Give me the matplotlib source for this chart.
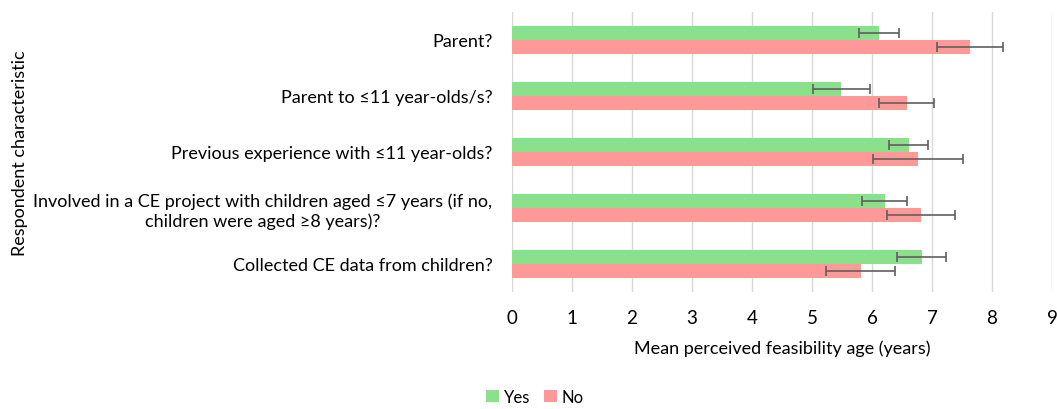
import numpy as np
import matplotlib.pyplot as plt

plt.rcParams['font.family'] = ['Lato', 'DejaVu Sans']

# Данные
categories = ['Parent?',
              'Parent to \u226411 year-olds/s?',
              'Previous experience with \u226411 year-olds?',
              'Involved in a CE project with children aged \u22647 years (if no,\nchildren were aged \u22658 years)?',
              'Collected CE data from children?']
yes_mean = [6.12, 5.49, 6.61, 6.21, 6.83]
yes_err = [0.33, 0.48, 0.33, 0.38, 0.41]
no_mean = [7.64, 6.58, 6.76, 6.82, 5.81]
no_err = [0.55, 0.46, 0.75, 0.57, 0.58]

fig = plt.figure(figsize=(10.57, 4.10), dpi=100)
ax = fig.add_axes([0.4844, 0.2854, 0.5109, 0.6829])

y = np.arange(len(categories))
h = 0.25
err_kw = dict(ecolor='#5f5f5f', elinewidth=1.2, capsize=3.5, capthick=1.2)

ax.barh(y - h / 2, yes_mean, height=h, xerr=yes_err, color='#8be08a',
        error_kw=err_kw, label='Yes', zorder=2)
ax.barh(y + h / 2, no_mean, height=h, xerr=no_err, color='#ff9999',
        error_kw=err_kw, label='No', zorder=2)

ax.set_xlim(0, 9)
ax.set_xticks(range(10))
ax.set_ylim(len(categories) - 0.5, -0.5)
ax.set_yticks(y)
ax.set_yticklabels(categories, fontsize=13, multialignment='center')
ax.tick_params(axis='y', length=0, pad=14)
ax.tick_params(axis='x', length=0, pad=12, labelsize=13.5)
ax.grid(axis='x', color='#d9d9d9', linewidth=1, zorder=0)
for s in ax.spines.values():
    s.set_visible(False)

ax.set_xlabel('Mean perceived feasibility age (years)', fontsize=13, labelpad=10)
fig.text(20 / 1057, 0.627, 'Respondent characteristic', rotation=90,
         ha='center', va='center', fontsize=13)

fig.legend(loc='center', bbox_to_anchor=(0.506, 0.03), ncol=2, frameon=False,
           fontsize=12, handlelength=0.8, handleheight=0.8, handletextpad=0.3,
           columnspacing=0.8)

fig.savefig('out.png', dpi=100)
